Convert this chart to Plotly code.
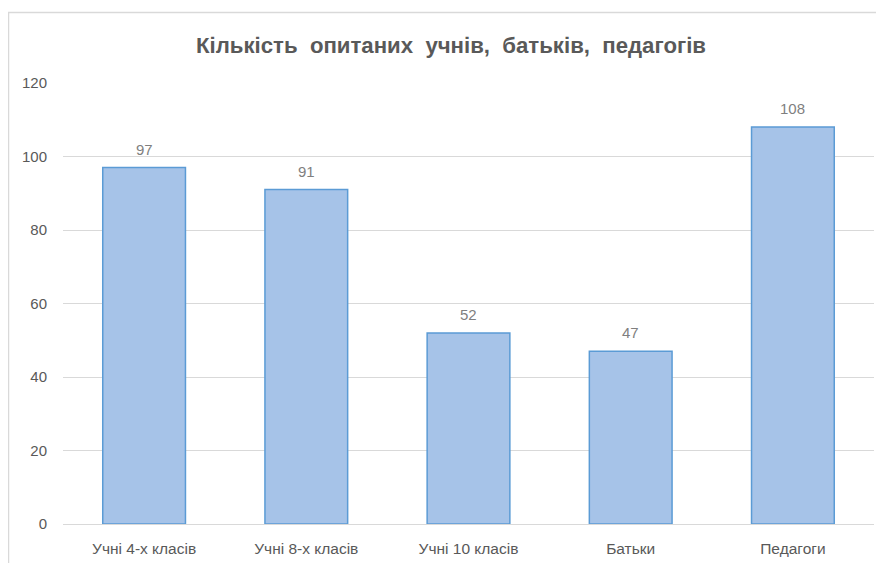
import plotly.graph_objects as go

categories = ["Учні 4-х класів", "Учні 8-х класів", "Учні 10 класів", "Батьки", "Педагоги"]
values = [97, 91, 52, 47, 108]
y_ticks = [0, 20, 40, 60, 80, 100, 120]
title_text = "Кількість  опитаних  учнів,  батьків,  педагогів"

FONT = "Liberation Sans, Arial, sans-serif"

W, H = 876, 555
L, R, T, B = 55, 10, 75, 39
PW, PH = W - L - R, H - T - B

fig = go.Figure()
fig.add_trace(go.Bar(
    x=categories,
    y=values,
    marker=dict(color="#A6C3E8", line=dict(color="#5B9BD5", width=1.5)),
    hoverinfo="x+y",
))

annotations = [
    dict(x=c, y=v, xref="x", yref="y", text=str(v), showarrow=False,
         yanchor="bottom", yshift=8,
         font=dict(family=FONT, size=15, color="#7F7F7F"))
    for c, v in zip(categories, values)
]

fig.update_layout(
    width=W, height=H,
    margin=dict(l=L, r=R, t=T, b=B),
    paper_bgcolor="white", plot_bgcolor="white",
    bargap=0.49,
    showlegend=False,
    title=dict(text=title_text, x=443 / W, xanchor="center", y=1 - 37 / H, yanchor="middle",
               font=dict(family=FONT, size=22.2, color="#595959", weight="bold")),
    annotations=annotations,
    shapes=[dict(type="rect", xref="paper", yref="paper",
                 x0=(0.5 - L) / PW, x1=1.5, y0=-0.5, y1=(PH + T - 4.5) / PH,
                 line=dict(color="#D9D9D9", width=1.5), fillcolor="rgba(0,0,0,0)", layer="below")],
)
fig.update_yaxes(range=[0, 120], tickvals=y_ticks, showgrid=True, gridcolor="#D9D9D9", gridwidth=1,
                 zeroline=False, showline=False, ticks="", ticklabelstandoff=15, automargin=False,
                 tickfont=dict(family=FONT, size=15, color="#595959"))
fig.update_xaxes(showline=True, linecolor="#D9D9D9", linewidth=1, ticks="", ticklabelstandoff=10,
                 automargin=False,
                 tickfont=dict(family=FONT, size=15.5, color="#595959"))

fig.write_html("out.html")
